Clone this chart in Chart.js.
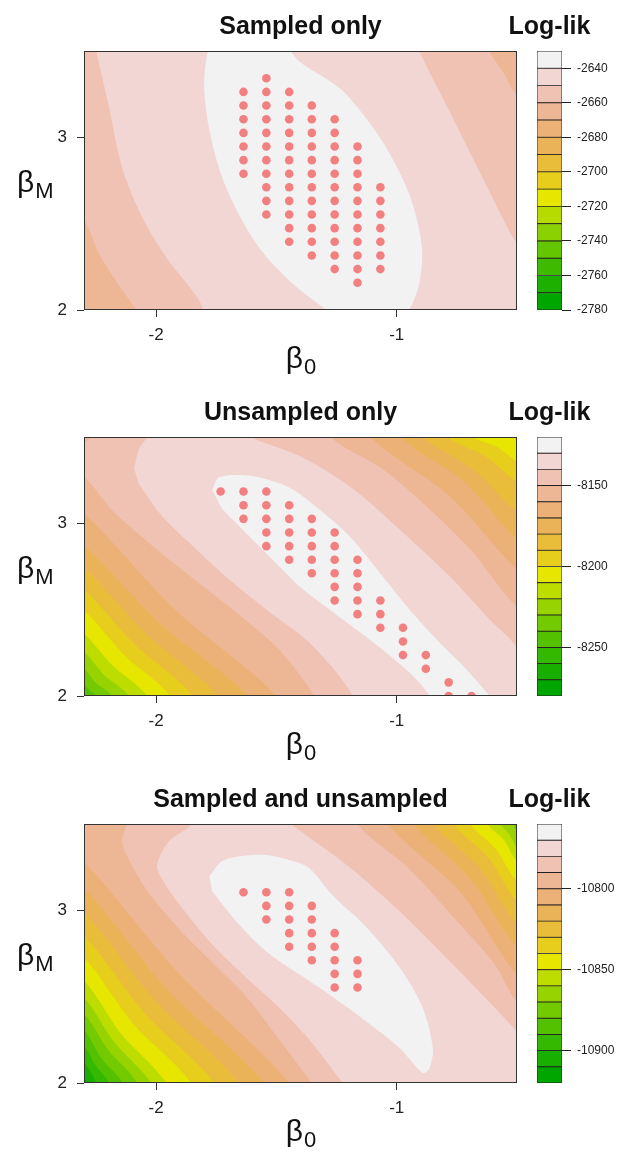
<!DOCTYPE html>
<html>
<head>
<meta charset="utf-8">
<script src="https://cdn.jsdelivr.net/npm/chart.js@4.4.1/dist/chart.umd.min.js"></script>
<style>
  html, body { margin: 0; padding: 0; background: #fff; overflow: hidden; }
  #page { position: relative; width: 619px; height: 1153px; }
  canvas { position: absolute; }
</style>
</head>
<body>
<div id="page">
  <canvas id="plot1" width="601" height="380" style="left:0;top:0"></canvas>
  <canvas id="bar1" width="129" height="380" style="left:490px;top:0"></canvas>
  <canvas id="plot2" width="601" height="380" style="left:0;top:386px"></canvas>
  <canvas id="bar2" width="129" height="380" style="left:490px;top:386px"></canvas>
  <canvas id="plot3" width="601" height="380" style="left:0;top:773px"></canvas>
  <canvas id="bar3" width="129" height="380" style="left:490px;top:773px"></canvas>
</div>
<script>
// ---- data ----
const titles = ['Sampled only', 'Unsampled only', 'Sampled and unsampled'];

// grid of the evaluated parameter values (where the dots sit)
const gridB0 = [-2.3, -2.205, -2.111, -2.016, -1.921, -1.826, -1.732, -1.637, -1.542, -1.447,
                -1.353, -1.258, -1.163, -1.068, -0.974, -0.879, -0.784, -0.689, -0.595, -0.5];
const gridBM = [2.0, 2.079, 2.158, 2.237, 2.316, 2.395, 2.474, 2.553, 2.632, 2.711,
                2.789, 2.868, 2.947, 3.026, 3.105, 3.184, 3.263, 3.342, 3.421, 3.5];

// dots: [column index in gridB0, first row, last row]
const sampledDots = [[7, 10, 16], [8, 7, 17], [9, 5, 16], [10, 4, 15], [11, 3, 14], [12, 2, 12], [13, 3, 9]];
const unsampledDots = [[6, 15, 15], [7, 13, 15], [8, 11, 15], [9, 10, 14], [10, 9, 13], [11, 7, 12],
                       [12, 6, 10], [13, 5, 7], [14, 3, 5], [15, 2, 3], [16, 0, 1], [17, 0, 0]];
const bothDots = [[7, 14, 14], [8, 12, 14], [9, 10, 14], [10, 9, 13], [11, 7, 11], [12, 7, 9]];

const b0Ticks = [-2, -1];
const bmTicks = [2, 3];

// colour bars
const terrain15 = ['#00A600', '#1DB000', '#3EBB00', '#63C600', '#8BD000', '#B6DB00', '#E6E600', '#E7CE1D',
                   '#E9BD3A', '#EAB358', '#ECB176', '#EDB694', '#EFC2B3', '#F1D6D3', '#F2F2F2'];
const terrain16 = ['#00A600', '#19AF00', '#35B800', '#53C100', '#74CA00', '#97D300', '#BDDC00', '#E6E600',
                   '#E7CE1D', '#E9BD3A', '#EAB358', '#ECB176', '#EDB694', '#EFC2B3', '#F1D6D3', '#F2F2F2'];
const sampledBar = [-2780, -2630];
const unsampledBar = [-8280, -8120];
const bothBar = [-10920, -10760];
const sampledBarTicks = [-2640, -2660, -2680, -2700, -2720, -2740, -2760, -2780];
const unsampledBarTicks = [-8150, -8200, -8250];
const bothBarTicks = [-10800, -10850, -10900];

// contour lines: region above each level, traced as [beta0, betaM]
const sampledLevels = [-2660, -2650, -2640];
const sampledRings = [
  [[-2.404, 2.635], [-2.304, 2.531], [-2.238, 2.327], [-2.154, 2.141], [-2.083, 2.002], [-2.029, 1.88],
   [-0.321, 1.88], [-0.321, 3.1], [-0.5, 3.245], [-0.55, 3.362], [-0.613, 3.496], [-0.654, 3.682], [-2.404, 3.682]],
  [[-1.779, 1.88], [-1.821, 2.054], [-1.958, 2.304], [-2.058, 2.537], [-2.142, 2.827], [-2.196, 3.176],
   [-2.25, 3.508], [-2.271, 3.682], [-0.946, 3.682], [-0.904, 3.496], [-0.779, 3.147], [-0.642, 2.763],
   [-0.529, 2.449], [-0.446, 2.258], [-0.404, 1.822]],
  [[-1.758, 3.624], [-1.792, 3.45], [-1.8, 3.275], [-1.779, 3.042], [-1.729, 2.781], [-1.654, 2.548],
   [-1.563, 2.345], [-1.446, 2.17], [-1.3, 2.008], [-1.196, 1.909], [-1.029, 1.88], [-0.946, 2.008],
   [-0.904, 2.17], [-0.896, 2.374], [-0.946, 2.664], [-1.05, 2.955], [-1.154, 3.158], [-1.238, 3.286],
   [-1.404, 3.438], [-1.467, 3.537], [-1.613, 3.653]]
];

const unsampledLevels = [-8240, -8230, -8220, -8210, -8200, -8190, -8180, -8170, -8160, -8150, -8140, -8130];
const unsampledRings = [
  [[-2.488, 2.244], [-2.304, 2.07], [-2.279, 2.035], [-2.25, 2.0], [-2.208, 1.797], [-0.321, 1.797], [-0.321, 3.709], [-2.488, 3.709]],
  [[-2.488, 2.337], [-2.304, 2.163], [-2.25, 2.076], [-2.183, 2.0], [-2.142, 1.797], [-0.321, 1.797], [-0.321, 3.709], [-2.488, 3.709]],
  [[-2.488, 2.436], [-2.304, 2.262], [-2.217, 2.122], [-2.113, 2.0], [-2.071, 1.797], [-0.321, 1.797], [-0.321, 3.709], [-2.488, 3.709]],
  [[-2.488, 2.541], [-2.304, 2.366], [-2.179, 2.174], [-2.038, 2.0], [-1.996, 1.797], [-0.321, 1.797], [-0.321, 3.709], [-2.488, 3.709]],
  [[-2.488, 2.674], [-2.304, 2.5], [-2.133, 2.238], [-1.942, 2.0], [-1.9, 1.797], [-0.321, 1.797], [-0.321, 3.18],
   [-0.5, 3.355], [-0.583, 3.442], [-0.683, 3.506], [-0.725, 3.709], [-2.488, 3.709]],
  [[-2.488, 2.797], [-2.304, 2.622], [-2.088, 2.297], [-1.846, 2.0], [-1.804, 1.797], [-0.321, 1.797], [-0.321, 3.064],
   [-0.5, 3.238], [-0.633, 3.39], [-0.792, 3.506], [-0.833, 3.709], [-2.488, 3.709]],
  [[-2.488, 2.924], [-2.304, 2.75], [-2.038, 2.355], [-1.742, 2.0], [-1.7, 1.797], [-0.321, 1.797], [-0.321, 2.89],
   [-0.5, 3.064], [-0.679, 3.308], [-0.892, 3.506], [-0.933, 3.709], [-2.488, 3.709]],
  [[-2.488, 3.052], [-2.304, 2.878], [-1.979, 2.413], [-1.621, 2.0], [-1.579, 1.797], [-0.321, 1.797], [-0.321, 2.733],
   [-0.5, 2.907], [-0.721, 3.244], [-0.988, 3.506], [-1.029, 3.709], [-2.488, 3.709]],
  [[-2.488, 3.238], [-2.304, 3.064], [-1.921, 2.5], [-1.5, 2.0], [-1.458, 1.797], [-0.321, 1.797], [-0.321, 2.558],
   [-0.5, 2.733], [-0.779, 3.157], [-1.113, 3.506], [-1.154, 3.709], [-2.488, 3.709]],
  [[-2.404, 3.314], [-2.304, 3.273], [-2.183, 3.076], [-2.042, 2.901], [-1.904, 2.744], [-1.767, 2.593],
   [-1.625, 2.436], [-1.488, 2.267], [-1.342, 2.0], [-1.279, 1.797], [-0.321, 1.797], [-0.321, 2.384],
   [-0.5, 2.517], [-0.683, 2.831], [-0.85, 3.064], [-1.058, 3.314], [-1.279, 3.506], [-1.321, 3.709],
   [-2.238, 3.709], [-2.271, 3.506], [-2.363, 3.401]],
  [[-2.092, 3.314], [-2.071, 3.43], [-2.029, 3.506], [-1.946, 3.576], [-1.738, 3.576], [-1.571, 3.477],
   [-1.404, 3.39], [-1.196, 3.215], [-0.988, 2.965], [-0.779, 2.692], [-0.625, 2.459], [-0.5, 2.285],
   [-0.383, 2.035], [-0.321, 1.86], [-1.196, 1.86], [-1.183, 2.0], [-1.363, 2.308], [-1.542, 2.5],
   [-1.696, 2.674], [-1.833, 2.849], [-1.975, 3.041], [-2.071, 3.227]],
  [[-1.767, 3.192], [-1.738, 3.267], [-1.629, 3.279], [-1.542, 3.256], [-1.433, 3.198], [-1.292, 3.047],
   [-1.183, 2.907], [-1.058, 2.692], [-0.946, 2.5], [-0.821, 2.308], [-0.708, 2.151], [-0.613, 2.0],
   [-0.529, 1.86], [-0.821, 1.86], [-0.863, 2.0], [-0.946, 2.134], [-1.058, 2.267], [-1.167, 2.384],
   [-1.279, 2.5], [-1.404, 2.634], [-1.488, 2.75], [-1.6, 2.907], [-1.725, 3.081]]
];

const bothLevels = [-10910, -10900, -10890, -10880, -10870, -10860, -10850, -10840, -10830, -10820,
                    -10810, -10800, -10790, -10780, -10770];
const bothRings = [
  [[-2.488, 2.209], [-2.304, 2.035], [-2.288, 2.0], [-2.246, 1.797], [-0.321, 1.797], [-0.321, 3.709], [-2.488, 3.709]],
  [[-2.488, 2.297], [-2.304, 2.122], [-2.25, 2.0], [-2.208, 1.797], [-0.321, 1.797], [-0.321, 3.709], [-2.488, 3.709]],
  [[-2.488, 2.395], [-2.304, 2.221], [-2.254, 2.105], [-2.196, 2.0], [-2.154, 1.797], [-0.321, 1.797], [-0.321, 3.709], [-2.488, 3.709]],
  [[-2.488, 2.488], [-2.304, 2.314], [-2.229, 2.145], [-2.138, 2.0], [-2.096, 1.797], [-0.321, 1.797], [-0.321, 3.709], [-2.488, 3.709]],
  [[-2.488, 2.581], [-2.304, 2.407], [-2.2, 2.192], [-2.079, 2.0], [-2.038, 1.797], [-0.321, 1.797], [-0.321, 3.285],
   [-0.5, 3.459], [-0.517, 3.506], [-0.558, 3.709], [-2.488, 3.709]],
  [[-2.488, 2.674], [-2.304, 2.5], [-2.175, 2.238], [-2.021, 2.0], [-1.979, 1.797], [-0.321, 1.797], [-0.321, 3.192],
   [-0.5, 3.366], [-0.533, 3.442], [-0.571, 3.506], [-0.613, 3.709], [-2.488, 3.709]],
  [[-2.488, 2.773], [-2.304, 2.599], [-2.146, 2.285], [-1.958, 2.0], [-1.917, 1.797], [-0.321, 1.797], [-0.321, 3.11],
   [-0.5, 3.285], [-0.554, 3.407], [-0.625, 3.506], [-0.667, 3.709], [-2.488, 3.709]],
  [[-2.488, 2.907], [-2.304, 2.733], [-2.096, 2.343], [-1.854, 2.0], [-1.813, 1.797], [-0.321, 1.797], [-0.321, 2.994],
   [-0.5, 3.169], [-0.588, 3.355], [-0.696, 3.506], [-0.738, 3.709], [-2.488, 3.709]],
  [[-2.488, 3.035], [-2.304, 2.86], [-2.05, 2.407], [-1.758, 2.0], [-1.717, 1.797], [-0.321, 1.797], [-0.321, 2.878],
   [-0.5, 3.052], [-0.617, 3.302], [-0.767, 3.506], [-0.808, 3.709], [-2.488, 3.709]],
  [[-2.488, 3.169], [-2.304, 2.994], [-2.0, 2.471], [-1.654, 2.0], [-1.613, 1.797], [-0.321, 1.797], [-0.321, 2.744],
   [-0.5, 2.919], [-0.654, 3.244], [-0.85, 3.506], [-0.892, 3.709], [-2.488, 3.709]],
  [[-2.488, 3.308], [-2.304, 3.134], [-1.95, 2.535], [-1.55, 2.0], [-1.508, 1.797], [-0.321, 1.797], [-0.321, 2.61],
   [-0.5, 2.785], [-0.692, 3.18], [-0.933, 3.506], [-0.975, 3.709], [-2.488, 3.709]],
  [[-2.488, 3.459], [-2.304, 3.285], [-1.913, 2.645], [-1.446, 2.0], [-1.404, 1.797], [-0.321, 1.797], [-0.321, 2.453],
   [-0.5, 2.628], [-0.738, 3.11], [-1.042, 3.506], [-1.083, 3.709], [-2.488, 3.709]],
  [[-1.354, 2.0], [-1.488, 2.25], [-1.625, 2.5], [-1.767, 2.698], [-1.904, 2.89], [-2.042, 3.122], [-2.125, 3.326],
   [-2.142, 3.401], [-2.121, 3.506], [-2.092, 3.709], [-1.196, 3.709], [-1.167, 3.506], [-0.946, 3.238],
   [-0.738, 2.919], [-0.592, 2.686], [-0.5, 2.471], [-0.321, 2.297], [-0.321, 1.797], [-1.313, 1.797]],
  [[-1.225, 2.0], [-1.363, 2.25], [-1.488, 2.436], [-1.625, 2.61], [-1.767, 2.802], [-1.904, 3.035], [-1.975, 3.18],
   [-1.996, 3.262], [-1.946, 3.401], [-1.863, 3.483], [-1.821, 3.558], [-1.488, 3.558], [-1.446, 3.506],
   [-1.196, 3.25], [-0.988, 2.994], [-0.779, 2.703], [-0.625, 2.483], [-0.5, 2.297], [-0.383, 2.122],
   [-0.321, 1.797], [-1.183, 1.797]],
  [[-1.779, 3.198], [-1.725, 3.285], [-1.642, 3.314], [-1.542, 3.32], [-1.446, 3.291], [-1.363, 3.244],
   [-1.267, 3.087], [-1.125, 2.901], [-0.988, 2.669], [-0.892, 2.436], [-0.85, 2.203], [-0.863, 2.087],
   [-0.892, 2.058], [-0.988, 2.203], [-1.125, 2.355], [-1.267, 2.5], [-1.404, 2.628], [-1.542, 2.762],
   [-1.667, 2.936], [-1.767, 3.11]]
];

// ---- drawing ----
const FONT = '"Liberation Sans", Arial, sans-serif';
const DOT = '#F28080';

function subLabel(ctx, x, y, main, sub, centered) {
  ctx.font = '30px ' + FONT;
  const w1 = ctx.measureText(main).width;
  ctx.font = '22px ' + FONT;
  const w2 = ctx.measureText(sub).width;
  const x0 = centered ? x - (w1 + w2) / 2 : x;
  ctx.textAlign = 'left';
  ctx.font = '30px ' + FONT;
  ctx.fillText(main, x0, y);
  ctx.font = '22px ' + FONT;
  ctx.fillText(sub, x0 + w1 + 1, y + 6);
}

const panelDecor = {
  id: 'panelDecor',
  beforeDatasetsDraw(chart, args, opts) {
    const {ctx, chartArea: a} = chart;
    ctx.save();
    ctx.fillStyle = opts.floor;
    ctx.fillRect(a.left, a.top, a.width, a.height);
    ctx.beginPath();
    ctx.rect(a.left, a.top, a.width, a.height);
    ctx.clip();
  },
  afterDatasetsDraw(chart) {
    const {ctx, chartArea: a} = chart;
    ctx.restore();
    ctx.save();
    ctx.strokeStyle = '#333';
    ctx.lineWidth = 1;
    ctx.strokeRect(a.left + 0.5, a.top + 0.5, a.width - 1, a.height - 1);
    ctx.restore();
  },
  afterDraw(chart, args, opts) {
    const {ctx, chartArea: a} = chart;
    ctx.save();
    ctx.fillStyle = '#111';
    ctx.textBaseline = 'alphabetic';
    ctx.textAlign = 'center';
    ctx.font = 'bold 25px ' + FONT;
    ctx.fillText(opts.title, (a.left + a.right) / 2, a.top - 17);
    subLabel(ctx, (a.left + a.right) / 2, a.bottom + 58, 'β', '0', true);
    subLabel(ctx, 17, (a.top + a.bottom) / 2 + 11, 'β', 'M', false);
    ctx.restore();
  }
};

const barTitle = {
  id: 'barTitle',
  afterDraw(chart) {
    const {ctx, chartArea: a} = chart;
    ctx.save();
    ctx.fillStyle = '#111';
    ctx.textAlign = 'center';
    ctx.textBaseline = 'alphabetic';
    ctx.font = 'bold 25px ' + FONT;
    ctx.fillText('Log-lik', (a.left + a.right) / 2, a.top - 17);
    ctx.restore();
  }
};

function dotPoints(cols) {
  const pts = [];
  cols.forEach(([i, jLo, jHi]) => {
    for (let j = jLo; j <= jHi; j++) pts.push({x: gridB0[i], y: gridBM[j]});
  });
  return pts;
}

function drawPanel(id, title, levels, rings, dots, palette, barMin) {
  const n = levels.length;
  const datasets = rings.map((ring, k) => ({
    data: ring.map(p => ({x: p[0], y: p[1]})),
    showLine: true,
    fill: 'shape',
    backgroundColor: palette[(levels[k] - barMin) / 10],
    borderColor: 'rgba(0,0,0,0)',
    borderWidth: 0,
    pointRadius: 0,
    pointHoverRadius: 0,
    tension: 0.3,
    capBezierPoints: false,
    order: n - k + 1
  }));
  datasets.push({
    data: dotPoints(dots),
    showLine: false,
    pointRadius: 4.3,
    pointHoverRadius: 4.3,
    pointBackgroundColor: DOT,
    pointBorderWidth: 0,
    borderColor: DOT,
    order: 0
  });

  new Chart(document.getElementById(id), {
    type: 'scatter',
    data: {datasets},
    options: {
      responsive: false,
      animation: false,
      events: [],
      layout: {padding: {left: 44, right: 84, top: 51, bottom: 30}},
      plugins: {
        legend: {display: false},
        tooltip: {enabled: false},
        panelDecor: {title: title, floor: palette[(levels[0] - 10 - barMin) / 10]}
      },
      scales: {
        x: {
          type: 'linear', min: -2.3, max: -0.5,
          afterFit: s => { s.height = 40; },
          afterBuildTicks: s => { s.ticks = b0Ticks.map(v => ({value: v})); },
          grid: {drawOnChartArea: false, tickLength: 7, color: '#333'},
          border: {display: false},
          ticks: {font: {size: 17, family: FONT}, color: '#222', padding: 8, callback: v => String(v)}
        },
        y: {
          type: 'linear', min: 2, max: 3.5,
          afterFit: s => { s.width = 40; },
          afterBuildTicks: s => { s.ticks = bmTicks.map(v => ({value: v})); },
          grid: {drawOnChartArea: false, tickLength: 7, color: '#333'},
          border: {display: false},
          ticks: {font: {size: 17, family: FONT}, color: '#222', padding: 10, callback: v => String(v)}
        }
      }
    },
    plugins: [panelDecor]
  });
}

function drawBar(id, range, palette, ticks) {
  const datasets = palette.map((c, k) => ({
    data: [[range[0] + 10 * k, range[0] + 10 * k + 10]],
    backgroundColor: c,
    borderColor: '#222',
    borderWidth: 0.8,
    borderSkipped: false,
    grouped: false,
    barPercentage: 1,
    categoryPercentage: 1
  }));
  new Chart(document.getElementById(id), {
    type: 'bar',
    data: {labels: [''], datasets},
    options: {
      responsive: false,
      animation: false,
      events: [],
      layout: {padding: {left: 47, right: 0, top: 51, bottom: 70}},
      plugins: {legend: {display: false}, tooltip: {enabled: false}},
      scales: {
        x: {display: false},
        y: {
          position: 'right', min: range[0], max: range[1],
          afterFit: s => { s.width = 57; },
          afterBuildTicks: s => { s.ticks = ticks.map(v => ({value: v})); },
          grid: {drawOnChartArea: false, tickLength: 9, color: '#222'},
          border: {display: false},
          ticks: {font: {size: 12, family: FONT}, color: '#222', padding: 6, callback: v => String(v)}
        }
      }
    },
    plugins: [barTitle]
  });
}

drawPanel('plot1', titles[0], sampledLevels, sampledRings, sampledDots, terrain15, sampledBar[0]);
drawPanel('plot2', titles[1], unsampledLevels, unsampledRings, unsampledDots, terrain16, unsampledBar[0]);
drawPanel('plot3', titles[2], bothLevels, bothRings, bothDots, terrain16, bothBar[0]);
drawBar('bar1', sampledBar, terrain15, sampledBarTicks);
drawBar('bar2', unsampledBar, terrain16, unsampledBarTicks);
drawBar('bar3', bothBar, terrain16, bothBarTicks);
</script>
</body>
</html>
